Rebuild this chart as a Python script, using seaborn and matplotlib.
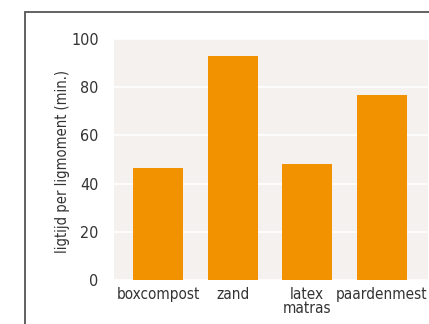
import matplotlib
matplotlib.use("Agg")
import matplotlib.pyplot as plt
import seaborn as sns
import pandas as pd
from matplotlib.patches import Rectangle

# Lying time per lying bout for each bedding material
categories = ["boxcompost", "zand", "latex\nmatras", "paardenmest"]
ligtijd = [46.4, 92.8, 48.0, 76.6]
yticks = [0, 20, 40, 60, 80, 100]

df = pd.DataFrame({"bodem": categories, "ligtijd": ligtijd})

sns.set_theme(style="white")
plt.rcParams["font.family"] = ["DejaVu Sans"]
plt.rcParams["font.stretch"] = "condensed"

text_color = "#333333"
bar_color = "#F39200"
bg_color = "#F4F1EE"

fig = plt.figure(figsize=(4.29, 3.24), dpi=100)
ax = fig.add_axes([114 / 429, 1 - 280 / 324, 314 / 429, 241 / 324])
ax.set_facecolor(bg_color)

sns.barplot(data=df, x="bodem", y="ligtijd", color=bar_color, saturation=1,
            width=0.672, linewidth=0, ax=ax, zorder=3)

ax.set_ylim(0, 100)
ax.set_xlim(-0.594, 3.62)
ax.set_yticks(yticks)
ax.set_yticklabels([str(v) for v in yticks])
ax.yaxis.grid(True, color="white", linewidth=1.2, zorder=1)
ax.xaxis.grid(False)
ax.set_axisbelow(True)
for s in ax.spines.values():
    s.set_visible(False)

ax.tick_params(axis="y", length=0, pad=11, labelsize=11.5, labelcolor=text_color)
ax.tick_params(axis="x", length=0, pad=5, labelsize=11, labelcolor=text_color)
for lbl in ax.get_xticklabels():
    lbl.set_linespacing(0.9)

ax.set_xlabel("")
ax.set_ylabel("ligtijd per ligmoment (min.)", fontsize=10.5, color=text_color)
ax.yaxis.set_label_coords(-0.14, 0.49)

# Outer frame around the figure panel
frame = Rectangle((25 / 429, -0.1), 1.2, 1 - 12 / 324 + 0.1,
                  transform=fig.transFigure, fill=False,
                  edgecolor="#555555", linewidth=1.3)
fig.patches.append(frame)

fig.savefig("out.png", dpi=100)
